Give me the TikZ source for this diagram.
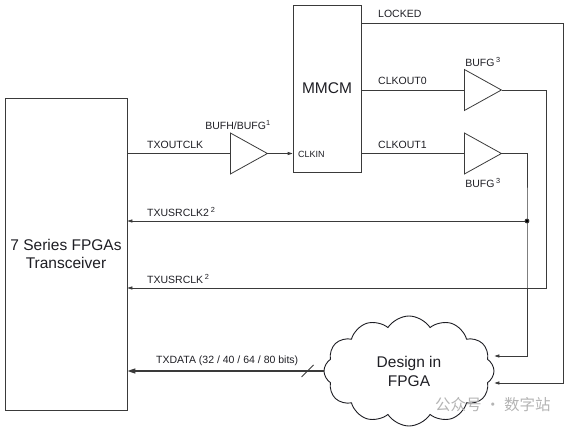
\documentclass[tikz,border=0pt]{standalone}
\usepackage{fontspec}
\setmainfont{Liberation Sans}
\newfontfamily\cjk{Noto Sans CJK SC}
\usetikzlibrary{arrows.meta,calc,positioning,shapes.geometric,shapes.symbols}
\definecolor{ink}{HTML}{1E1E24}
\definecolor{wire}{HTML}{3A3A3A}
\definecolor{wmark}{HTML}{B4B4B4}
\tikzset{
  every node/.style={text=ink, inner sep=0pt},
  blk/.style={draw=wire, line width=0.8pt, fill=white, rectangle, align=center,
              font=\fontsize{15.5}{18}\selectfont},
  buf/.style={draw=wire, line width=0.8pt, isosceles triangle, isosceles triangle stretches,
              shape border rotate=0, minimum width=41pt, minimum height=37pt, inner sep=0pt,
              anchor=west},
  design/.style={draw=ink, line width=0.9pt, cloud, cloud puffs=12, cloud puff arc=115, aspect=1.6,
                 minimum width=170pt, minimum height=110pt, align=center, inner sep=0pt,
                 font=\fontsize{15.5}{19}\selectfont},
  wire/.style={draw=wire, line width=0.8pt},
  arr/.style={wire, -{Triangle[length=5pt,width=3.2pt]}},
  bus/.style={draw=wire, line width=1.4pt, -{Triangle[length=8pt,width=5pt]}},
  lab/.style={font=\fontsize{10.5}{12}\selectfont, anchor=west},
  blab/.style={font=\fontsize{10.5}{12}\selectfont},
}

\begin{document}
\begin{tikzpicture}[x=1pt, y=-1pt]
\useasboundingbox (0,0) rectangle (571,428);
% ---- grid (pt, y down) --------------------------------------------------------
\def\xS{527} \def\xT{546} \def\xL{563}
\def\yL{23} \def\yA{221} \def\yB{288}

% ---- blocks -------------------------------------------------------------------
\node[blk, minimum width=122pt, minimum height=312pt] (xcvr) at (66,254) {7 Series FPGAs\\Transceiver};
\node[blk, minimum width=68pt, minimum height=167pt] (mmcm) at (327,88.5) {MMCM};
\node[design] (fpga) at (409,371) {Design in\\FPGA};

% ---- buffers ------------------------------------------------------------------
\node[buf] (buf1) at (230,153.5) {};
\node[buf] (buf2) at (464,90) {};
\node[buf] (buf3) at (464,153.5) {};

% ---- labels -------------------------------------------------------------------
\node[lab] at (147,145) {TXOUTCLK};
\node[blab] at (238,125) {BUFH/BUFG\textsuperscript{1}};
\node[lab, font=\fontsize{9}{10}\selectfont] at (298,154) {CLKIN};
\node[lab] at (378,14) {LOCKED};
\node[lab] at (378,81) {CLKOUT0};
\node[lab] at (378,145) {CLKOUT1};
\node[blab] at (483,62) {BUFG\,\textsuperscript{3}};
\node[blab] at (483,183) {BUFG\,\textsuperscript{3}};
\node[lab] at (147,212) {TXUSRCLK2\,\textsuperscript{2}};
\node[lab] at (147,279) {TXUSRCLK\,\textsuperscript{2}};
\node[lab] at (156,361) {TXDATA (32 / 40 / 64 / 80 bits)};

% ---- clock in -----------------------------------------------------------------
\draw[wire] (xcvr.east |- buf1.west) -- (buf1.west);
\draw[arr] (buf1.east) -- (mmcm.west |- buf1.east);

% ---- clock outs ---------------------------------------------------------------
\coordinate (l0) at (\xL,\yL);
\coordinate (s0) at (\xT,\yB);
\coordinate (s1) at (\xS,\yA);
\draw[wire] (mmcm.east |- buf2.west) -- (buf2.west);
\draw[wire] (mmcm.east |- buf3.west) -- (buf3.west);
\draw[arr] (mmcm.east |- l0) -- (l0) |- ([yshift=-12pt]fpga.east);
\draw[arr] (buf2.east) -| (s0) -- (xcvr.east |- s0);
\draw[arr] (buf3.east) -| (s1) |- ([yshift=15pt]fpga.east);
\draw[arr] (s1) -- (xcvr.east |- s1);
\fill[wire] (s1) circle (2pt);

% ---- data bus -----------------------------------------------------------------
\draw[bus] (fpga.west) -- (xcvr.east |- fpga.west);
\draw[wire] ([xshift=-16pt]fpga.west) ++(-6,6) -- ++(12,-12);

% ---- watermark ----------------------------------------------------------------
\node[font=\cjk\fontsize{15.5}{17}\selectfont, text=wmark, anchor=west] (wm) at (435,405) {公众号 · 数字站};
\end{tikzpicture}
\end{document}
